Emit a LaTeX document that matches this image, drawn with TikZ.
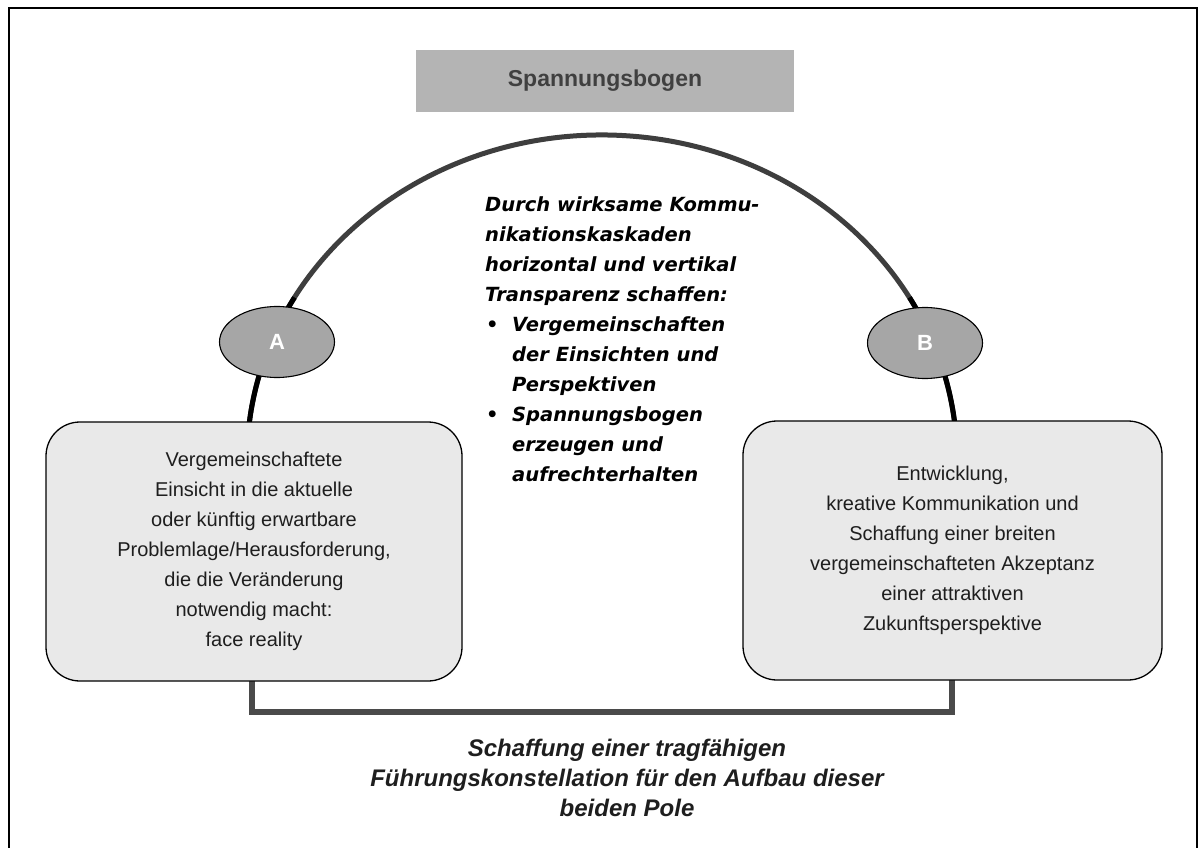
\documentclass[tikz,border=0pt]{standalone}
\usepackage{fontspec}
\setmainfont{Liberation Sans}
\newfontfamily\centerfont{DejaVu Sans}
\usetikzlibrary{shapes.geometric}
\definecolor{arccol}{HTML}{3E3E3E}
\definecolor{barcol}{HTML}{4A4A4A}
\definecolor{boxfill}{HTML}{E9E9E9}
\definecolor{titlefill}{HTML}{B4B4B4}
\definecolor{ellfill}{HTML}{A6A6A6}
\definecolor{txt}{HTML}{1E1E1E}
\tikzset{
  frameline/.style={line width=1.6pt, black},
  arcline/.style={line width=5pt, arccol},
  arcdark/.style={line width=5pt, black},
  barline/.style={line width=6pt, barcol},
  textbox/.style={draw=black, line width=1.3pt, fill=boxfill, rounded corners=34pt,
    align=center, text=txt, inner sep=0pt, font=\fontsize{20}{30}\selectfont},
  titlebox/.style={fill=titlefill, text=txt!85, inner sep=0pt,
    font=\bfseries\fontsize{23}{28}\selectfont},
  pole/.style={ellipse, draw=black, line width=1.1pt, fill=ellfill, text=white,
    inner sep=0pt, minimum width=115pt, minimum height=71pt, font=\bfseries\fontsize{22}{26}\selectfont},
  midtext/.style={align=left, inner sep=0pt, text=black,
    font=\centerfont\bfseries\itshape\fontsize{19.5}{30}\selectfont},
  foottext/.style={align=center, inner sep=0pt, text=txt,
    font=\bfseries\itshape\fontsize{24}{30}\selectfont}
}
\begin{document}
\begin{tikzpicture}[x=1pt,y=-1pt]
\useasboundingbox[fill=white] (0,0) rectangle (1199,848);
% frame
\coordinate (fbl) at (9,848);
\coordinate (ftl) at (9,8);
\coordinate (ftr) at (1197,8);
\coordinate (fbr) at (1197,848);
\draw[frameline] (fbl) -- (ftl) -- (ftr) -- (fbr);
% title
\node[titlebox, minimum width=378pt, minimum height=62pt] (title) at (605,81) {Spannungsbogen};
% arc
\coordinate (arcL) at (249.4,422);
\coordinate (arcR) at (954.6,422);
\draw[arcline] (arcL) arc[start angle=173.29, end angle=6.71, x radius=355pt, y radius=325pt];
\draw[arcdark] (arcL) arc[start angle=173.29, end angle=150, x radius=355pt, y radius=325pt];
\draw[arcdark] (arcR) arc[start angle=6.71, end angle=30, x radius=355pt, y radius=325pt];
% bottom connector
\coordinate (barL) at (252,681);
\coordinate (barR) at (952,680);
\draw[barline] (barL) -- ++(0,31) -| (barR);
% boxes
\node[textbox, minimum width=416pt, minimum height=259pt] (lbox) at (254,551.5)
  {Vergemeinschaftete\\Einsicht in die aktuelle\\oder künftig erwartbare\\Problemlage/Herausforderung,\\die die Veränderung\\notwendig macht:\\face reality};
\node[textbox, minimum width=419pt, minimum height=259pt] (rbox) at (952.5,550.5)
  {Entwicklung,\\kreative Kommunikation und\\Schaffung einer breiten\\vergemeinschafteten Akzeptanz\\einer attraktiven\\Zukunftsperspektive};
% poles
\node[pole] (A) at (277,342) {A};
\node[pole] (B) at (925,343) {B};
% middle text
\node[midtext, anchor=west] (mid) at (485,339)
  {Durch wirksame Kommu-\\nikationskaskaden\\horizontal und vertikal\\Transparenz schaffen:\\
   \makebox[27pt][l]{\hspace*{1pt}•}Vergemeinschaften\\\hspace*{27pt}der Einsichten und\\\hspace*{27pt}Perspektiven\\
   \makebox[27pt][l]{\hspace*{1pt}•}Spannungsbogen\\\hspace*{27pt}erzeugen und\\\hspace*{27pt}aufrechterhalten};
% footer text
\node[foottext] (foot) at (627,778)
  {Schaffung einer tragfähigen\\Führungskonstellation für den Aufbau dieser\\beiden Pole};
\end{tikzpicture}
\end{document}
